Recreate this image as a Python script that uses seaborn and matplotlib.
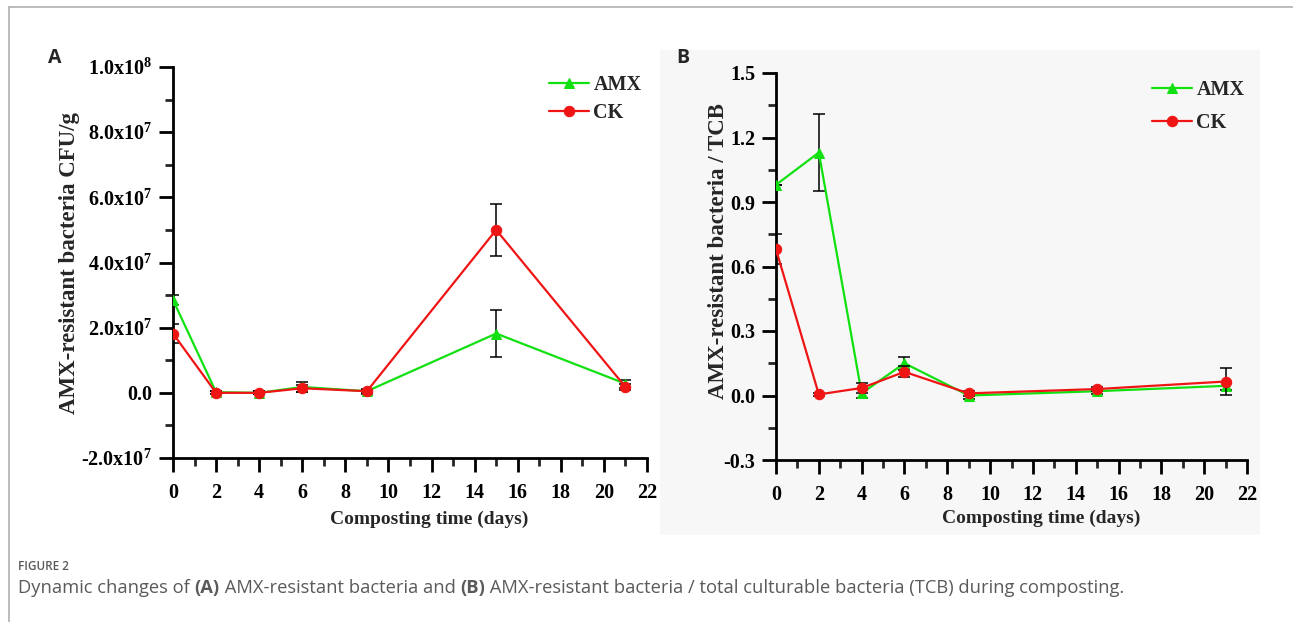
import numpy as np
import pandas as pd
import matplotlib
matplotlib.use("Agg")
import matplotlib.pyplot as plt
import matplotlib.text as mtext
import seaborn as sns
from matplotlib.patches import Rectangle
from matplotlib.lines import Line2D
from matplotlib.ticker import MultipleLocator, FixedLocator

# ---------------- data ----------------
days = [0, 2, 4, 6, 9, 15, 21]
# Panel A: AMX-resistant bacteria CFU/g
a_amx = [2.85e7, 0.02e7, 0.0e7, 0.18e7, 0.05e7, 1.82e7, 0.28e7]
a_amx_err = [0.15e7, 0.05e7, 0.05e7, 0.15e7, 0.08e7, 0.72e7, 0.12e7]
a_ck = [1.82e7, 0.0e7, 0.0e7, 0.14e7, 0.05e7, 5.0e7, 0.18e7]
a_ck_err = [0.28e7, 0.05e7, 0.05e7, 0.1e7, 0.05e7, 0.8e7, 0.08e7]
# Panel B: AMX-resistant bacteria / TCB
b_amx = [0.98, 1.13, 0.01, 0.15, 0.00, 0.02, 0.045]
b_amx_err = [0.0, 0.18, 0.02, 0.03, 0.015, 0.012, 0.02]
b_ck = [0.68, 0.005, 0.035, 0.11, 0.01, 0.03, 0.065]
b_ck_err = [0.07, 0.005, 0.025, 0.025, 0.01, 0.01, 0.063]

a_yticks = [-2e7, 0, 2e7, 4e7, 6e7, 8e7, 1e8]
a_yticklabels = [r"-2.0x10$^{\mathbf{7}}$", "0.0", r"2.0x10$^{\mathbf{7}}$",
                 r"4.0x10$^{\mathbf{7}}$", r"6.0x10$^{\mathbf{7}}$", r"8.0x10$^{\mathbf{7}}$",
                 r"1.0x10$^{\mathbf{8}}$"]
b_yticks = [-0.3, 0.0, 0.3, 0.6, 0.9, 1.2, 1.5]
b_yticklabels = ["-0.3", "0.0", "0.3", "0.6", "0.9", "1.2", "1.5"]
xticks = list(range(0, 23, 2))

GREEN = "#11e011"
RED = "#f01515"

sns.set_theme(style="white")
plt.rcParams["font.family"] = ["Liberation Serif", "DejaVu Serif"]
plt.rcParams["font.weight"] = "bold"
plt.rcParams["axes.unicode_minus"] = False
plt.rcParams["mathtext.fontset"] = "custom"
plt.rcParams["mathtext.rm"] = "Liberation Serif:bold"
plt.rcParams["mathtext.bf"] = "Liberation Serif:bold"
plt.rcParams["mathtext.it"] = "Liberation Serif:italic:bold"

W, H = 1293, 622
fig = plt.figure(figsize=(W / 100, H / 100), dpi=100)

# page border lines
fig.add_artist(Line2D([9 / W, 1], [1 - 7 / H, 1 - 7 / H], transform=fig.transFigure,
                      color="#b0b0b0", lw=1.2))
fig.add_artist(Line2D([9 / W, 9 / W], [0, 1 - 7 / H], transform=fig.transFigure,
                      color="#b0b0b0", lw=1.2))
# light background behind panel B
fig.add_artist(Rectangle((660 / W, 1 - 535 / H), 600 / W, 485 / H,
                         transform=fig.transFigure, facecolor="#f7f7f7", edgecolor="none", zorder=0))

axA = fig.add_axes([173 / W, 1 - 458 / H, 474 / W, 391 / H])
axB = fig.add_axes([776 / W, 1 - 460 / H, 471 / W, 387 / H])
for ax in (axA, axB):
    ax.patch.set_alpha(0)


def draw(ax, yamx, eamx, yck, eck):
    df_amx = pd.DataFrame({"day": days, "val": yamx})
    df_ck = pd.DataFrame({"day": days, "val": yck})
    ax.errorbar(days, yamx, yerr=eamx, fmt="none", ecolor="black", elinewidth=1.1,
                capsize=4.5, capthick=1.1, zorder=3)
    sns.lineplot(data=df_amx, x="day", y="val", ax=ax, color=GREEN, marker="^",
                 markersize=7.5, markeredgecolor=GREEN, lw=1.6, label="AMX", zorder=4)
    ax.errorbar(days, yck, yerr=eck, fmt="none", ecolor="black", elinewidth=1.1,
                capsize=4.5, capthick=1.1, zorder=5)
    sns.lineplot(data=df_ck, x="day", y="val", ax=ax, color=RED, marker="o",
                 markersize=7.5, markeredgecolor=RED, lw=1.6, label="CK", zorder=6)
    for s in ("top", "right"):
        ax.spines[s].set_visible(False)
    for s in ("left", "bottom"):
        ax.spines[s].set_linewidth(2.0)
        ax.spines[s].set_color("black")
    ax.set_xlim(0, 22)
    ax.xaxis.set_major_locator(FixedLocator(xticks))
    ax.xaxis.set_minor_locator(MultipleLocator(1))
    ax.set_xticklabels([str(t) for t in xticks])
    ax.tick_params(axis="both", which="major", direction="out", length=10, width=2.0,
                   labelsize=14.5, colors="black", bottom=True, left=True, pad=5)
    ax.tick_params(axis="x", which="major", pad=8)
    ax.tick_params(axis="both", which="minor", direction="out", length=5.5, width=2.0,
                   bottom=True, left=True)
    ax.set_xlabel("Composting time (days)", fontsize=14, fontweight="bold")
    ax.grid(False)


def fix_ticklabels(ax):
    for lab in ax.get_xticklabels() + ax.get_yticklabels():
        lab.set_fontweight("bold")


draw(axA, a_amx, a_amx_err, a_ck, a_ck_err)
axA.set_ylim(-2e7, 1e8)
axA.yaxis.set_major_locator(FixedLocator(a_yticks))
axA.yaxis.set_minor_locator(MultipleLocator(1e7))
axA.set_yticklabels(a_yticklabels)
fix_ticklabels(axA)
axA.set_ylabel("AMX-resistant bacteria CFU/g", fontsize=16.5, fontweight="bold")
axA.yaxis.set_label_coords((80 - 173) / 474, 0.5)
axA.xaxis.set_label_coords(0.540, (458 - 511) / 391)
axA.legend(loc="upper left", bbox_to_anchor=(549 / W, 1 - 75 / H),
           bbox_transform=fig.transFigure, frameon=False, fontsize=14.5,
           handlelength=2.0, handletextpad=0.2, labelspacing=0.4, borderaxespad=0,
           borderpad=0)

draw(axB, b_amx, b_amx_err, b_ck, b_ck_err)
axB.set_ylim(-0.3, 1.5)
axB.yaxis.set_major_locator(FixedLocator(b_yticks))
axB.yaxis.set_minor_locator(MultipleLocator(0.15))
axB.set_yticklabels(b_yticklabels)
fix_ticklabels(axB)
axB.set_ylabel("AMX-resistant bacteria / TCB", fontsize=16.5, fontweight="bold")
axB.yaxis.set_label_coords((729 - 776) / 471, 0.54)
axB.xaxis.set_label_coords(0.5626, (460 - 510) / 387)
axB.legend(loc="upper left", bbox_to_anchor=(1152 / W, 1 - 80 / H),
           bbox_transform=fig.transFigure, frameon=False, fontsize=14.5,
           handlelength=2.0, handletextpad=0.2, labelspacing=0.65, borderaxespad=0,
           borderpad=0)

# panel letters
fig.text(48 / W, 1 - 58 / H, "A", fontsize=14, fontweight="bold",
         family=["Open Sans", "DejaVu Sans"], va="center", ha="left")
fig.text(676 / W, 1 - 58 / H, "B", fontsize=14, fontweight="bold",
         family=["Open Sans", "DejaVu Sans"], va="center", ha="left")

# caption
cap_kw = dict(family=["Open Sans", "DejaVu Sans"], color="#5a5a5a")
fig.text(18 / W, 1 - 566 / H, "FIGURE 2", fontsize=8.5, va="center", ha="left",
         fontweight="semibold", **cap_kw)
pieces = [("Dynamic changes of ", "normal"), ("(A)", "bold"),
          (" AMX-resistant bacteria and ", "normal"), ("(B)", "bold"),
          (" AMX-resistant bacteria / total culturable bacteria (TCB) during composting.",
           "normal")]
CAP_FS = 13.2
prev = fig.text(18 / W, 1 - 588 / H, pieces[0][0], fontsize=CAP_FS, va="center",
                ha="left", fontweight=pieces[0][1], **cap_kw)
for txt, w in pieces[1:]:
    prev = fig.add_artist(mtext.Annotation(
        txt, xy=(1, 0.5), xycoords=prev, va="center", ha="left",
        fontsize=CAP_FS, fontweight=w, **cap_kw))

fig.savefig("out.png", dpi=100)
